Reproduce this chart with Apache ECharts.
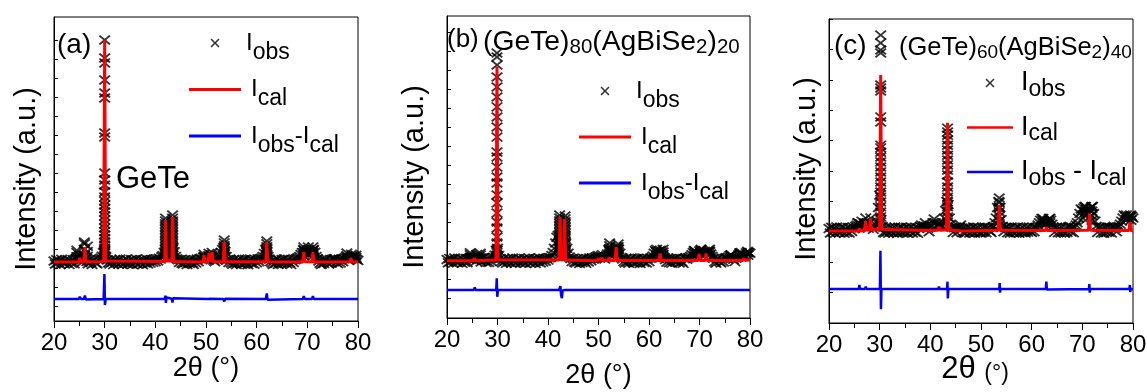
<!DOCTYPE html>
<html>
<head>
<meta charset="utf-8">
<title>Rietveld refinement of (GeTe)x(AgBiSe2)1-x</title>
<script src="https://cdn.jsdelivr.net/npm/echarts@6.0.0/dist/echarts.min.js"></script>
<style>
  html, body { margin: 0; padding: 0; background: #fff; }
  #chart { width: 1147px; height: 392px; }
</style>
</head>
<body>
<div id="chart"></div>
<script>
// 2θ range shared by all three patterns, and the step of the observed scans
const twoThetaMin = 20;
const twoThetaMax = 80;
const twoThetaTick = 10;
const scanStep = 0.25;

// intensity tick marks (a.u.)
const intensityTicksAB = [0, 100, 200, 300, 400, 500, 600, 700, 800, 900, 1000, 1100, 1200, 1300, 1400];

// ---------- (a) GeTe ----------
// observed intensity on the 0.25° grid, 20° … 80°
const obsBaseA = [
  240, 224, 247, 229, 243, 222, 249, 233, 226, 246, 231, 248, 221, 241, 228, 247, 225, 250, 252, 258,
  255, 246, 232, 258, 268, 252, 238, 226, 247, 233, 222, 244, 249, 230, 224, 246, 250, 256, 265, 285,
  292, 262, 246, 231, 224, 247, 233, 221, 248, 229, 244, 223, 250, 232, 222, 246, 229, 249, 224, 241,
  226, 248, 221, 245, 231, 250, 223, 242, 228, 247, 220, 246, 230, 251, 224, 244, 229, 248, 233, 250,
  236, 252, 240, 254, 250, 262, 268, 285, 300, 282, 262, 270, 285, 300, 310, 288, 264, 252, 246, 232,
  248, 228, 224, 247, 232, 221, 245, 227, 249, 231, 222, 246, 229, 250, 236, 252, 254, 246, 258, 264,
  248, 256, 268, 256, 272, 260, 244, 236, 250, 244, 254, 264, 285, 300, 310, 290, 264, 248, 232, 248,
  230, 223, 248, 228, 221, 245, 250, 229, 222, 247, 226, 249, 231, 220, 244, 250, 227, 246, 223, 248,
  231, 251, 236, 252, 256, 264, 280, 300, 290, 264, 250, 238, 230, 222, 247, 227, 249, 222, 244, 226,
  248, 230, 252, 234, 224, 249, 231, 221, 247, 232, 246, 250, 254, 258, 264, 274, 285, 300, 290, 285,
  295, 300, 290, 282, 290, 300, 286, 264, 252, 240, 228, 222, 248, 227, 245, 251, 232, 224, 248, 230,
  249, 252, 248, 232, 226, 249, 230, 251, 236, 252, 258, 264, 252, 246, 255, 262, 270, 264, 252, 248,
  242
];
// observed points on the steep flanks of the Bragg peaks: [2θ, intensities]
const obsPeaksA = [
  [24.5, [262, 285, 296]],
  [25.1, [258, 268]],
  [26.0, [270, 300, 330, 340]],
  [26.6, [265, 290, 318]],
  [30.0, [1400, 1306, 1280, 1190, 1122, 1096, 912, 891, 702, 665, 639, 602, 576, 555, 534, 515, 497, 476, 455, 434, 413, 394, 376, 358, 340, 324, 308, 295, 280, 265]],
  [42.0, [465, 450, 435, 420, 405, 390, 375, 360, 345, 330, 315, 300, 285, 270]],
  [43.4, [481, 465, 450, 435, 420, 405, 390, 375, 360, 345, 330, 315, 300, 285, 270]],
  [49.6, [262, 275]],
  [50.6, [265, 280]],
  [51.2, [268, 285]],
  [53.6, [350, 335, 320, 305, 290, 275, 262]],
  [62.0, [345, 330, 315, 300, 285, 270]],
  [69.3, [313, 298, 283, 268]],
  [70.2, [313, 298, 283]],
  [71.1, [313, 298, 283, 268]],
  [75.5, [252]],
  [77.8, [282, 268]],
  [78.7, [275, 262]],
  [79.6, [270, 258]]
];
// calculated profile
const calcA = [
  [20, 235], [24.9, 235], [25.1, 256], [25.3, 235], [25.9, 236], [26.1, 313], [26.3, 236],
  [29.8, 238], [30.0, 1400], [30.2, 240], [41.85, 238], [42.03, 455], [42.2, 240],
  [43.25, 240], [43.41, 471], [43.6, 238], [49.4, 235], [49.6, 271], [49.8, 235],
  [50.4, 236], [50.6, 282], [50.8, 238], [51.0, 238], [51.2, 287], [51.4, 236],
  [53.4, 236], [53.6, 340], [53.8, 236], [61.8, 236], [62.0, 340], [62.2, 236],
  [65.4, 235], [65.6, 245], [65.8, 235], [69.1, 235], [69.3, 287], [69.5, 236],
  [70.9, 236], [71.1, 287], [71.3, 235], [75.5, 235], [75.7, 245], [75.9, 235],
  [78.4, 236], [78.6, 256], [78.8, 236], [80, 235]
];
// difference curve, offset below the pattern
const diffA = [
  [20, 40], [24.9, 40], [25.1, 52], [25.3, 40], [25.9, 40], [26.1, 58], [26.3, 38],
  [29.8, 40], [29.95, 172], [30.05, 9], [30.2, 40], [41.85, 40], [41.98, 58], [42.08, 20],
  [42.2, 48], [42.4, 38], [43.25, 42], [43.38, 22], [43.5, 45], [43.7, 40],
  [50.4, 40], [50.6, 30], [50.8, 42], [53.4, 40], [53.6, 28], [53.8, 42],
  [61.8, 40], [62.0, 70], [62.15, 36], [62.3, 40], [69.1, 40], [69.3, 55], [69.5, 40],
  [70.9, 40], [71.1, 55], [71.3, 40], [78.4, 40], [78.6, 48], [78.8, 40], [80, 40]
];

// ---------- (b) (GeTe)80(AgBiSe2)20 ----------
const obsBaseB = [
  203, 186, 209, 190, 206, 184, 211, 194, 187, 208, 191, 210, 183, 204, 189, 209, 186, 207, 210, 214,
  216, 200, 212, 194, 209, 216, 203, 190, 211, 214, 198, 188, 206, 187, 209, 193, 210, 215, 226, 250,
  262, 224, 208, 192, 185, 208, 194, 183, 209, 190, 205, 184, 211, 193, 184, 207, 190, 210, 185, 203,
  188, 209, 183, 206, 192, 211, 184, 203, 189, 208, 182, 207, 191, 212, 185, 205, 190, 209, 194, 211,
  200, 212, 214, 224, 240, 262, 290, 320, 330, 300, 290, 310, 330, 320, 290, 262, 236, 216, 208, 192,
  210, 189, 185, 208, 193, 182, 206, 188, 210, 192, 183, 207, 190, 211, 197, 212, 205, 214, 216, 220,
  224, 210, 222, 228, 212, 206, 220, 232, 255, 262, 250, 235, 240, 250, 258, 265, 258, 236, 214, 206,
  192, 185, 210, 189, 183, 206, 211, 190, 184, 208, 187, 210, 192, 182, 205, 211, 188, 207, 185, 209,
  192, 210, 212, 222, 236, 250, 245, 238, 248, 252, 240, 228, 214, 203, 189, 209, 186, 208, 184, 205,
  209, 190, 212, 194, 185, 209, 191, 183, 207, 212, 205, 212, 214, 220, 228, 240, 250, 240, 230, 236,
  248, 252, 238, 240, 246, 238, 242, 250, 246, 232, 220, 210, 190, 184, 208, 211, 192, 185, 209, 190,
  210, 212, 208, 216, 224, 228, 214, 204, 192, 210, 216, 228, 238, 240, 228, 220, 226, 238, 246, 240,
  236
];
const obsPeaksB = [
  [24.6, [215, 228, 239]],
  [25.9, [215, 230]],
  [26.6, [212, 226, 236]],
  [29.9, [1291, 1270, 1228, 1165, 1112, 1059, 1007, 954, 901, 848, 769, 743, 690, 638, 606, 543, 501, 448, 401, 369, 322, 290, 253, 240, 227, 215]],
  [42.3, [437, 422, 407, 392, 377, 362, 347, 332, 317, 302, 287, 272, 257, 242, 227]],
  [43.4, [432, 417, 402, 387, 372, 357, 342, 327, 312, 297, 282, 267, 252, 237, 222]],
  [52.2, [290, 275, 260, 245, 230]],
  [53.5, [270, 255, 240]],
  [53.9, [285, 270, 255, 240, 225]],
  [61.5, [257, 243, 229, 215]],
  [62.8, [257, 243, 229, 215]],
  [69.0, [249, 235, 221]],
  [70.3, [257, 243, 229]],
  [72.0, [257, 243, 229]],
  [76.2, [225, 212]],
  [78.0, [237, 224]],
  [79.6, [240, 226]]
];
const calcB = [
  [20, 197], [25.2, 197], [25.4, 211], [25.6, 197], [29.7, 200], [29.9, 1219], [30.1, 202],
  [42.2, 200], [42.4, 427], [42.6, 202], [43.1, 202], [43.3, 416], [43.5, 200],
  [49.8, 197], [50.0, 210], [50.2, 197], [50.5, 198], [50.7, 212], [50.9, 198],
  [51.9, 198], [52.1, 214], [52.3, 198], [53.3, 198], [53.5, 270], [53.7, 198],
  [62.0, 198], [62.2, 235], [62.4, 198], [69.7, 198], [69.9, 232], [70.1, 198],
  [71.1, 198], [71.3, 235], [71.5, 198], [78.6, 198], [78.8, 211], [79.0, 198],
  [79.4, 200], [79.6, 208], [80, 200]
];
const diffB = [
  [20, 42], [25.3, 42], [25.5, 56], [25.7, 42], [26.2, 42], [26.35, 52], [26.5, 42],
  [29.75, 42], [29.85, 104], [29.95, 7], [30.1, 42], [42.2, 42], [42.45, 63], [42.6, 15],
  [42.75, 0], [42.9, 40], [43.1, 48], [43.3, 42], [62.0, 42], [62.2, 50], [62.4, 42],
  [79.2, 42], [79.4, 50], [79.6, 42], [80, 42]
];

// ---------- (c) (GeTe)60(AgBiSe2)40 ----------
const obsBaseC = [
  311, 296, 315, 299, 313, 295, 316, 302, 297, 314, 300, 315, 295, 310, 298, 314, 296, 313, 301, 316,
  310, 318, 322, 330, 318, 326, 335, 320, 330, 345, 325, 312, 330, 345, 318, 308, 315, 322, 335, 380,
  420, 340, 318, 298, 296, 314, 300, 295, 315, 299, 313, 296, 316, 301, 295, 314, 298, 315, 297, 312,
  298, 315, 295, 313, 300, 316, 296, 311, 299, 314, 295, 312, 318, 322, 315, 320, 330, 318, 312, 300,
  315, 320, 330, 342, 330, 322, 318, 325, 318, 322, 330, 345, 370, 400, 390, 345, 325, 315, 298, 313,
  316, 297, 312, 316, 322, 312, 298, 295, 314, 299, 315, 296, 312, 298, 316, 295, 313, 299, 314, 297,
  296, 314, 299, 316, 297, 313, 315, 302, 298, 314, 318, 330, 345, 380, 400, 380, 340, 318, 300, 314,
  315, 297, 313, 295, 316, 300, 296, 314, 298, 316, 295, 312, 298, 315, 300, 296, 314, 299, 316, 301,
  298, 315, 300, 314, 315, 322, 330, 338, 344, 338, 330, 325, 330, 338, 344, 338, 325, 315, 298, 314,
  315, 297, 313, 296, 316, 299, 295, 314, 298, 316, 318, 299, 314, 297, 315, 322, 330, 345, 360, 375,
  370, 378, 383, 375, 365, 360, 370, 380, 383, 360, 335, 318, 298, 314, 315, 296, 313, 295, 314, 298,
  316, 299, 314, 296, 315, 318, 312, 300, 315, 318, 325, 335, 345, 355, 350, 340, 345, 352, 355, 350,
  345
];
const obsPeaksC = [
  [25.7, [330]],
  [30.2, [947, 921, 898, 888, 783, 773, 763, 678, 661, 585, 576, 562, 546, 530, 513, 497, 480, 464, 447, 431, 414, 398, 382, 365, 349, 332]],
  [43.4, [641, 628, 618, 602, 585, 569, 552, 536, 520, 503, 487, 464, 447, 431, 414, 398, 382, 365, 349, 332]],
  [53.6, [411, 396, 381, 366, 351, 336, 321]],
  [62.2, [344, 330]],
  [63.6, [344, 330]],
  [70.6, [383, 368, 353, 338]],
  [71.9, [383, 368, 353, 338]],
  [78.7, [355, 340]],
  [79.6, [352, 338]]
];
const calcC = [
  [20, 303], [25.9, 303], [26.0, 312], [26.1, 303], [27.0, 304], [27.2, 335], [27.4, 305],
  [28.0, 306], [28.2, 343], [28.4, 306], [30.0, 308], [30.2, 816], [30.4, 308],
  [38.9, 304], [39.1, 308], [39.3, 304], [41.5, 305], [41.7, 317], [41.9, 305],
  [43.2, 306], [43.4, 659], [43.6, 306], [46.0, 303], [46.2, 307], [46.4, 303],
  [53.4, 305], [53.6, 388], [53.8, 305], [62.7, 304], [62.9, 315], [63.1, 304],
  [71.2, 305], [71.4, 361], [71.6, 305], [79.2, 304], [79.4, 332], [79.6, 304], [80, 303]
];
const diffC = [
  [20, 112], [25.9, 112], [26.0, 125], [26.1, 112], [27.1, 112], [27.25, 120], [27.4, 112],
  [28.1, 112], [28.25, 118], [28.4, 112], [30.05, 112], [30.15, 238], [30.25, 45], [30.35, 112],
  [38.0, 112], [38.1, 116], [38.2, 112], [41.6, 112], [41.7, 120], [41.8, 112],
  [43.3, 112], [43.38, 136], [43.46, 81], [43.55, 112], [45.5, 112], [45.6, 117], [45.7, 112],
  [53.6, 112], [53.68, 131], [53.76, 100], [53.85, 112], [58.5, 112], [58.6, 116], [58.7, 112],
  [62.8, 112], [62.9, 136], [63.0, 110], [63.1, 112], [71.3, 112], [71.38, 128], [71.46, 100],
  [71.55, 112], [79.3, 112], [79.38, 125], [79.46, 102], [79.55, 112], [80, 112]
];

[obsBaseA, obsBaseB, obsBaseC].forEach(function (arr) {
  const expected = Math.round((twoThetaMax - twoThetaMin) / scanStep) + 1;
  if (arr.length !== expected) throw new Error('scan length ' + arr.length + ' != ' + expected);
});

// observed scan + peak-flank points as [2θ, I] pairs
function observed(base, peaks) {
  const pts = base.map(function (v, i) { return [twoThetaMin + i * scanStep, v]; });
  peaks.forEach(function (p) { p[1].forEach(function (y) { pts.push([p[0], y]); }); });
  return pts;
}

const FONT = '"Liberation Sans", Arial, Helvetica, sans-serif';
// filled "×" marker
const CROSS = 'path://M0,1.2L1.2,0L5,3.8L8.8,0L10,1.2L6.2,5L10,8.8L8.8,10L5,6.2L1.2,10L0,8.8L3.8,5Z';
const BAR = 'path://M0,0H52V3H0Z';

const panels = [
  {
    key: 'A', obs: observed(obsBaseA, obsPeaksA), calc: calcA, diff: diffA,
    grid: { left: 54, top: 17, width: 304, height: 304 },
    yMin: -75, yMax: 1521, yTicks: intensityTicksAB,
    yNameGap: 13, yName: 'Intensity (a.u.){sp| }', spW: 20,
    xNameGap: 34, xName: '2θ (°)', xNamePad: [0, 0, 0, 0]
  },
  {
    key: 'B', obs: observed(obsBaseB, obsPeaksB), calc: calcB, diff: diffB,
    grid: { left: 447, top: 16, width: 303, height: 302 },
    yMin: -105, yMax: 1486, yTicks: intensityTicksAB,
    yNameGap: 18, yName: 'Intensity (a.u.){sp| }', spW: 20,
    xNameGap: 44, xName: '2θ (°)', xNamePad: [0, 0, 0, 0]
  },
  {
    key: 'C', obs: observed(obsBaseC, obsPeaksC), calc: calcC, diff: diffC,
    grid: { left: 829, top: 19, width: 304, height: 304 },
    yMin: 0, yMax: 1000, yInterval: 100,
    yNameGap: 8, yName: '{sp| }Intensity (a.u.)', spW: 4,
    xNameGap: 31, xName: '{a|2θ }{b|(°)}', xNamePad: [0, 12, 0, 0]
  }
];

const grids = [], xAxes = [], yAxes = [], series = [];
panels.forEach(function (p, i) {
  grids.push(Object.assign({
    show: true, borderColor: '#000', borderWidth: 1, backgroundColor: 'transparent',
    containLabel: false, outerBoundsMode: 'none'
  }, p.grid));

  xAxes.push({
    gridIndex: i, type: 'value', min: twoThetaMin, max: twoThetaMax, interval: twoThetaTick,
    name: p.xName, nameLocation: 'middle', nameGap: p.xNameGap, nameMoveOverlap: false,
    nameTextStyle: {
      fontFamily: FONT, fontSize: 27, color: '#000', padding: p.xNamePad,
      rich: {
        a: { fontFamily: FONT, fontSize: 31, color: '#000', verticalAlign: 'bottom' },
        b: { fontFamily: FONT, fontSize: 23, color: '#000', verticalAlign: 'bottom' }
      }
    },
    axisLine: { show: true, onZero: false, lineStyle: { color: '#000', width: 1 } },
    axisTick: { show: true, inside: false, length: 7, lineStyle: { color: '#000', width: 1 } },
    minorTick: { show: true, splitNumber: 2, length: 5, lineStyle: { color: '#000', width: 1 } },
    axisLabel: { show: true, fontFamily: FONT, fontSize: 24, color: '#000', margin: 10, hideOverlap: false },
    splitLine: { show: false }, minorSplitLine: { show: false }
  });

  const y = {
    gridIndex: i, type: 'value', min: p.yMin, max: p.yMax,
    name: p.yName, nameLocation: 'middle', nameGap: p.yNameGap, nameMoveOverlap: false,
    nameTextStyle: {
      fontFamily: FONT, fontSize: 29, color: '#000',
      rich: { sp: { fontFamily: FONT, fontSize: 29, width: p.spW } }
    },
    axisLine: { show: true, onZero: false, lineStyle: { color: '#000', width: 1 } },
    axisTick: { show: true, inside: true, length: 4, lineStyle: { color: '#000', width: 1 } },
    axisLabel: { show: false },
    splitLine: { show: false }
  };
  if (p.yTicks) y.axisTick.customValues = p.yTicks;
  if (p.yInterval) y.interval = p.yInterval;
  yAxes.push(y);

  series.push({
    name: 'obs' + p.key, type: 'scatter', xAxisIndex: i, yAxisIndex: i,
    data: p.obs, symbol: CROSS, symbolSize: [12, 10],
    itemStyle: { color: '#000' }, z: 2, silent: true
  });
  series.push({
    name: 'cal' + p.key, type: 'line', xAxisIndex: i, yAxisIndex: i,
    data: p.calc, showSymbol: false, symbol: 'none',
    lineStyle: { color: '#ff0000', width: 3 }, itemStyle: { color: '#ff0000' }, z: 4, silent: true
  });
  series.push({
    name: 'diff' + p.key, type: 'line', xAxisIndex: i, yAxisIndex: i,
    data: p.diff, showSymbol: false, symbol: 'none',
    lineStyle: { color: '#0000ff', width: 2.5 }, itemStyle: { color: '#0000ff' }, z: 4, silent: true
  });
});

function legendFor(key, left, top, width, gap, sizes, labels) {
  return {
    orient: 'vertical', left: left, top: top, padding: 0, itemGap: gap,
    itemWidth: width, itemHeight: 9, selectedMode: false, align: 'left',
    data: [
      { name: 'obs' + key, icon: CROSS, itemStyle: { color: '#000', borderWidth: 0 } },
      { name: 'cal' + key, icon: BAR, itemStyle: { color: '#ff0000', borderWidth: 0 } },
      { name: 'diff' + key, icon: BAR, itemStyle: { color: '#0000ff', borderWidth: 0 } }
    ],
    formatter: function (name) { return labels[name.slice(0, -1)]; },
    textStyle: {
      fontFamily: FONT, color: '#000',
      rich: {
        m0: { fontFamily: FONT, fontSize: sizes.m, lineHeight: sizes.lh, color: '#000' },
        m: { fontFamily: FONT, fontSize: sizes.m, lineHeight: sizes.lh, color: '#000', padding: [0, 0, 0, sizes.pad] },
        h: { fontFamily: FONT, fontSize: sizes.m, lineHeight: sizes.lh, color: '#000' },
        s: { fontFamily: FONT, fontSize: sizes.s, color: '#000', verticalAlign: 'bottom' }
      }
    }
  };
}

const labelsAB = { obs: '{m0|I}{s|obs}', cal: '{m|I}{s|cal}', diff: '{m|I}{s|obs}{h|-I}{s|cal}' };
const labelsC = { obs: '{m|I}{s|obs}', cal: '{m|I}{s|cal}', diff: '{m|I}{s|obs}{h| - I}{s|cal}' };

const titleStyle = { fontFamily: FONT, fontWeight: 'normal', color: '#000' };
const formulaRich = function (m, mlh, s) {
  return {
    m: { fontFamily: FONT, fontSize: m, lineHeight: mlh, color: '#000' },
    s: { fontFamily: FONT, fontSize: s, color: '#000', verticalAlign: 'bottom' }
  };
};

const option = {
  animation: false,
  backgroundColor: '#fff',
  textStyle: { fontFamily: FONT },
  grid: grids, xAxis: xAxes, yAxis: yAxes, series: series,
  legend: [
    legendFor('A', 189, 31, 52, 13.5, { m: 24, lh: 42, s: 23, pad: 5 }, labelsAB),
    legendFor('B', 579, 79, 52, 13, { m: 24, lh: 42, s: 23, pad: 5 }, labelsAB),
    legendFor('C', 967, 69.5, 46, 13, { m: 27, lh: 36, s: 23, pad: 3 }, labelsC)
  ],
  title: [
    { text: '(a)', left: 57, top: 31, padding: 0, textStyle: Object.assign({ fontSize: 28 }, titleStyle) },
    { text: 'GeTe', left: 116, top: 163.5, padding: 0, textStyle: Object.assign({ fontSize: 31 }, titleStyle) },
    { text: '(b)', left: 447, top: 27, padding: 0, textStyle: Object.assign({ fontSize: 26 }, titleStyle) },
    {
      text: '{m|(GeTe)}{s|80}{m|(AgBiSe}{s|2}{m|)}{s|20}', left: 483, top: 25.5, padding: 0,
      textStyle: Object.assign({ rich: formulaRich(28.3, 32.5, 20.5) }, titleStyle)
    },
    { text: '(c)', left: 834, top: 32, padding: 0, textStyle: Object.assign({ fontSize: 28 }, titleStyle) },
    {
      text: '{m|(GeTe)}{s|60}{m|(AgBiSe}{s|2}{m|)}{s|40}', left: 899, top: 33, padding: 0,
      textStyle: Object.assign({ rich: formulaRich(25.5, 29, 19) }, titleStyle)
    }
  ]
};

const chart = echarts.init(document.getElementById('chart'), null, { renderer: 'canvas' });
chart.setOption(option);
</script>
</body>
</html>
